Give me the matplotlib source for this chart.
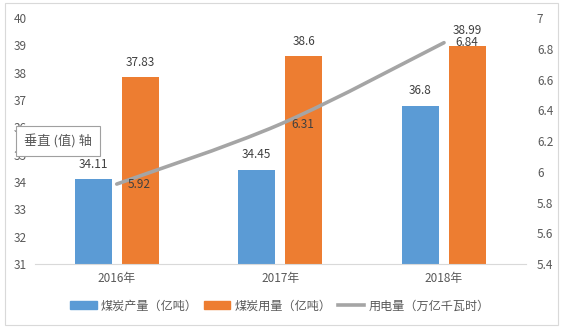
import numpy as np
import matplotlib.pyplot as plt
from matplotlib.path import Path
from matplotlib.patches import PathPatch, Rectangle
from matplotlib.lines import Line2D
from matplotlib.patches import Patch

plt.rcParams['font.family'] = ['Noto Sans CJK SC', 'DejaVu Sans']

years = ['2016年', '2017年', '2018年']
output_coal = [34.11, 34.45, 36.8]
use_coal = [37.83, 38.6, 38.99]
power = [5.92, 6.31, 6.84]

blue = '#5B9BD5'
orange = '#ED7D31'
gray = '#A5A5A5'
txt = '#595959'

fig = plt.figure(figsize=(5.63, 3.35), dpi=100)
ax = fig.add_axes([0.062, 0.212, 0.872, 0.734])
ax2 = ax.twinx()

x = np.arange(len(years))
w = 0.226
off = 0.144
b1 = ax.bar(x - off, output_coal, w, color=blue, zorder=2)
b2 = ax.bar(x + off, use_coal, w, color=orange, zorder=2)
ax.set_xlim(-0.5, 2.5)
ax.set_ylim(31, 40)
ax.set_yticks(range(31, 41))
ax2.set_ylim(5.4, 7)
ax2.set_yticks(np.arange(5.4, 7.01, 0.2))
ax2.set_yticklabels([f'{v:g}' for v in np.arange(5.4, 7.01, 0.2).round(1)])

for a in (ax, ax2):
    for s in a.spines.values():
        s.set_visible(False)
    a.tick_params(length=0, labelsize=8.5, colors=txt)
ax.spines['bottom'].set_visible(True)
ax.spines['bottom'].set_color('#D9D9D9')
ax.set_xticks(x)
ax.set_xticklabels(years)
ax.tick_params(axis='x', pad=6)
ax.tick_params(axis='y', pad=6)
ax2.tick_params(axis='y', pad=8)

for bars, vals in ((b1, output_coal), (b2, use_coal)):
    for r, v in zip(bars, vals):
        ax.annotate(f'{v:g}', (r.get_x() + r.get_width() / 2, v), xytext=(0, 6),
                    textcoords='offset points', ha='center', va='bottom',
                    fontsize=8.5, color='#404040')

# smoothed line (Excel style bezier)
pts = np.column_stack([x, power]).astype(float)
verts = [pts[0]]
codes = [Path.MOVETO]
n = len(pts)
for i in range(n - 1):
    p0 = pts[max(i - 1, 0)]
    p1 = pts[i]
    p2 = pts[i + 1]
    p3 = pts[min(i + 2, n - 1)]
    verts += [p1 + (p2 - p0) / 6, p2 - (p3 - p1) / 6, p2]
    codes += [Path.CURVE4] * 3
ax2.add_patch(PathPatch(Path(verts, codes), fill=False, edgecolor=gray, lw=2.6,
                        capstyle='round', zorder=3))
for xi, v in zip(x, power):
    ax2.annotate(f'{v:g}', (xi, v), xytext=(8, 0), textcoords='offset points',
                 ha='left', va='center', fontsize=8.5, color='#404040')

handles = [Patch(color=blue), Patch(color=orange), Line2D([], [], color=gray, lw=2.6)]
labels = ['煤炭产量（亿吨）', '煤炭用量（亿吨）', '用电量（万亿千瓦时）']
fig.legend(handles, labels, loc='center', bbox_to_anchor=(0.497, 0.087), ncol=3,
           frameon=False, fontsize=8.7, labelcolor=txt, handlelength=2.2,
           handleheight=0.6, columnspacing=0.5, handletextpad=0.35)

fig.text(0.043, 0.579, '垂直 (值) 轴', fontsize=9.5, color=txt, va='center', ha='left',
         bbox=dict(boxstyle='square,pad=0.6', fc='white', ec='#A0A0A0', lw=0.8))

fig.patches.append(Rectangle((5 / 563, 10 / 335), 553 / 563, 322 / 335, transform=fig.transFigure,
                             fill=False, ec='#D9D9D9', lw=0.8))

fig.savefig('out.png', dpi=100)
